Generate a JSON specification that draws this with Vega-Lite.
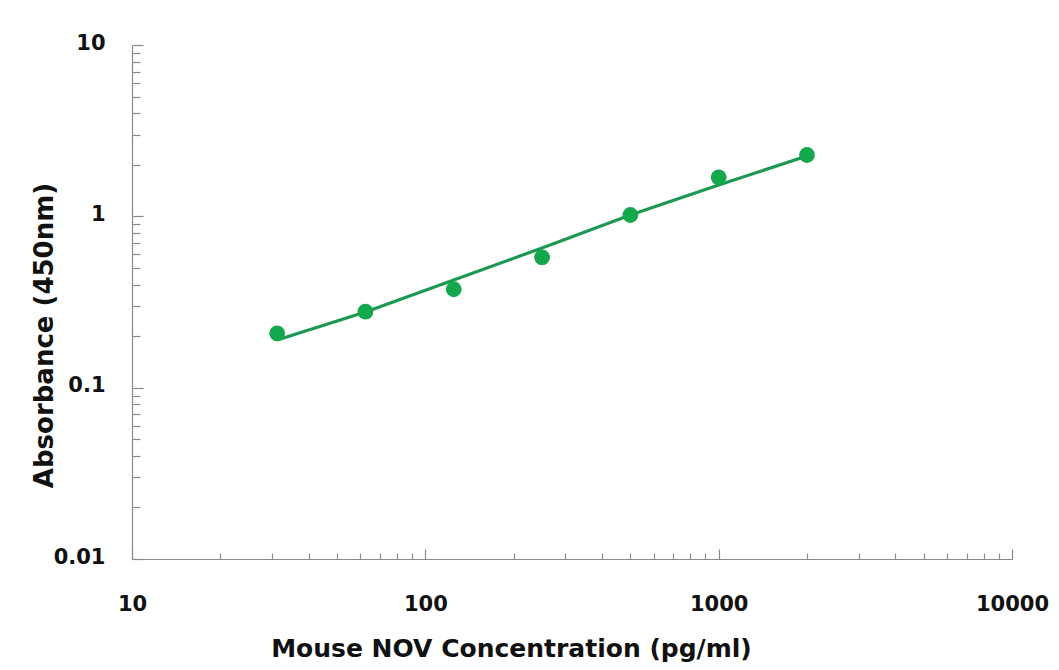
{
  "$schema": "https://vega.github.io/schema/vega-lite/v6.json",
  "width": 880,
  "height": 514,
  "padding": {"left": 132, "top": 45, "right": 47, "bottom": 111},
  "autosize": {"type": "none"},
  "background": "white",
  "config": {
    "view": {"stroke": null},
    "axis": {
      "grid": false,
      "domainColor": "#8a8a8a",
      "domainWidth": 1.2,
      "tickColor": "#8a8a8a",
      "tickWidth": 1.2,
      "labelFont": "DejaVu Sans",
      "labelFontWeight": "bold",
      "labelFontSize": 21,
      "labelColor": "#111111",
      "titleFont": "DejaVu Sans",
      "titleFontWeight": "bold",
      "titleFontSize": 25,
      "titleColor": "#111111",
      "labelOverlap": false,
      "labelFlush": false
    }
  },
  "datasets": {
    "points": [
      {"conc": 31.25, "od": 0.2076},
      {"conc": 62.5, "od": 0.2776},
      {"conc": 125, "od": 0.3752},
      {"conc": 250, "od": 0.5766},
      {"conc": 500, "od": 1.018},
      {"conc": 1000, "od": 1.689},
      {"conc": 2000, "od": 2.28}
    ],
    "fit": [
      {"conc": 31.25, "od": 0.1898},
      {"conc": 62.5, "od": 0.2764},
      {"conc": 125, "od": 0.4251},
      {"conc": 250, "od": 0.6535},
      {"conc": 500, "od": 1.018},
      {"conc": 1000, "od": 1.524},
      {"conc": 2000, "od": 2.25}
    ]
  },
  "layer": [
    {
      "data": {"name": "fit"},
      "mark": {"type": "line", "color": "#1c9852", "strokeWidth": 3.2},
      "encoding": {
        "x": {
          "field": "conc",
          "type": "quantitative",
          "scale": {"type": "log", "domain": [10, 10000], "nice": false},
          "axis": {
            "title": "Mouse NOV Concentration (pg/ml)",
            "values": [10, 20, 30, 40, 50, 60, 70, 80, 90, 100, 200, 300, 400, 500, 600, 700, 800, 900, 1000, 2000, 3000, 4000, 5000, 6000, 7000, 8000, 9000, 10000],
            "labelExpr": "abs(log(datum.value)/LN10 - round(log(datum.value)/LN10)) < 1e-6 ? format(datum.value, '') : ''",
            "tickSize": {"condition": {"test": "abs(log(datum.value)/LN10 - round(log(datum.value)/LN10)) < 1e-6", "value": -10}, "value": -6},
            "labelPadding": 44,
            "labelBaseline": "top",
            "titleX": 379,
            "titleY": 97,
            "titleBaseline": "alphabetic",
            "titleAlign": "center",
            "titleAnchor": null
          }
        },
        "y": {
          "field": "od",
          "type": "quantitative",
          "scale": {"type": "log", "domain": [0.01, 10], "nice": false},
          "axis": {
            "title": "Absorbance (450nm)",
            "values": [0.01, 0.02, 0.03, 0.04, 0.05, 0.06, 0.07, 0.08, 0.09, 0.1, 0.2, 0.3, 0.4, 0.5, 0.6, 0.7, 0.8, 0.9, 1, 2, 3, 4, 5, 6, 7, 8, 9, 10],
            "labelExpr": "abs(log(datum.value)/LN10 - round(log(datum.value)/LN10)) < 1e-6 ? format(datum.value, '') : ''",
            "tickSize": {"condition": {"test": "abs(log(datum.value)/LN10 - round(log(datum.value)/LN10)) < 1e-6", "value": -11}, "value": -8},
            "labelPadding": 38,
            "labelBaseline": "middle",
            "labelOffset": -2,
            "titleX": -80,
            "titleY": 290,
            "titleFontSize": 26,
            "titleBaseline": "alphabetic",
            "titleAlign": "center",
            "titleAnchor": null
          }
        }
      }
    },
    {
      "data": {"name": "points"},
      "mark": {"type": "circle", "color": "#14a84c", "opacity": 1, "size": 250},
      "encoding": {
        "x": {"field": "conc", "type": "quantitative"},
        "y": {"field": "od", "type": "quantitative"}
      }
    }
  ]
}
